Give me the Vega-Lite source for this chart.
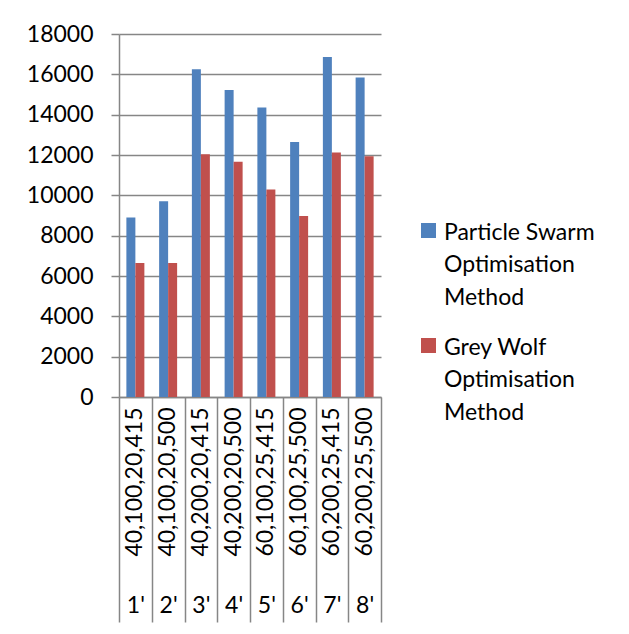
{
  "$schema": "https://vega.github.io/schema/vega-lite/v6.json",
  "width": 262,
  "height": 363,
  "padding": {"left": 26, "top": 23, "right": 5, "bottom": 5},
  "background": "white",
  "config": {"view": {"stroke": null}},
  "data": {
    "values": [
      {"cat": "1'", "combo": "40,100,20,415", "method": "Particle Swarm Optimisation Method", "value": 8900},
      {"cat": "1'", "combo": "40,100,20,415", "method": "Grey Wolf Optimisation Method", "value": 6650},
      {"cat": "2'", "combo": "40,100,20,500", "method": "Particle Swarm Optimisation Method", "value": 9710},
      {"cat": "2'", "combo": "40,100,20,500", "method": "Grey Wolf Optimisation Method", "value": 6640},
      {"cat": "3'", "combo": "40,200,20,415", "method": "Particle Swarm Optimisation Method", "value": 16250},
      {"cat": "3'", "combo": "40,200,20,415", "method": "Grey Wolf Optimisation Method", "value": 12040},
      {"cat": "4'", "combo": "40,200,20,500", "method": "Particle Swarm Optimisation Method", "value": 15220},
      {"cat": "4'", "combo": "40,200,20,500", "method": "Grey Wolf Optimisation Method", "value": 11660},
      {"cat": "5'", "combo": "60,100,25,415", "method": "Particle Swarm Optimisation Method", "value": 14350},
      {"cat": "5'", "combo": "60,100,25,415", "method": "Grey Wolf Optimisation Method", "value": 10290},
      {"cat": "6'", "combo": "60,100,25,500", "method": "Particle Swarm Optimisation Method", "value": 12640},
      {"cat": "6'", "combo": "60,100,25,500", "method": "Grey Wolf Optimisation Method", "value": 8980},
      {"cat": "7'", "combo": "60,200,25,415", "method": "Particle Swarm Optimisation Method", "value": 16860},
      {"cat": "7'", "combo": "60,200,25,415", "method": "Grey Wolf Optimisation Method", "value": 12120},
      {"cat": "8'", "combo": "60,200,25,500", "method": "Particle Swarm Optimisation Method", "value": 15840},
      {"cat": "8'", "combo": "60,200,25,500", "method": "Grey Wolf Optimisation Method", "value": 11940}
    ]
  },
  "layer": [
    {
      "mark": {"type": "bar"},
      "encoding": {
        "x": {
          "field": "combo", "type": "nominal", "sort": null,
          "scale": {"paddingInner": 0, "paddingOuter": 0},
          "axis": {"title": null, "orient": "bottom", "labelAngle": 270, "labelFont": "Lato", "labelFontSize": 23, "labelColor": "black", "labelPadding": 10, "ticks": false, "domain": false, "labelLimit": 400, "labelOverlap": false, "grid": false}
        },
        "xOffset": {
          "field": "method", "type": "nominal",
          "sort": ["Particle Swarm Optimisation Method", "Grey Wolf Optimisation Method"],
          "scale": {"paddingInner": 0, "paddingOuter": 0.82}
        },
        "y": {
          "field": "value", "type": "quantitative", "stack": null,
          "scale": {"domain": [0, 18000], "nice": false},
          "axis": {"title": null, "values": [0, 2000, 4000, 6000, 8000, 10000, 12000, 14000, 16000, 18000], "format": "d", "grid": true, "gridColor": "#868686", "gridWidth": 1.5, "domainColor": "#868686", "domainWidth": 1.5, "tickColor": "#868686", "tickWidth": 1.5, "tickSize": 8, "labelFont": "Lato", "labelFontSize": 23, "labelColor": "black", "labelPadding": 18}
        },
        "color": {
          "field": "method", "type": "nominal",
          "scale": {"domain": ["Particle Swarm Optimisation Method", "Grey Wolf Optimisation Method"], "range": ["#4F81BD", "#C0504D"]},
          "legend": {"title": null, "orient": "none", "legendX": 298, "legendY": 185, "symbolType": "square", "symbolSize": 225, "symbolStrokeWidth": 0, "labelFont": "Lato", "labelFontSize": 23, "labelColor": "black", "labelExpr": "[slice(datum.label, 0, indexof(datum.label, ' Optimisation')), 'Optimisation', 'Method']", "rowPadding": 24, "labelOffset": 4, "labelBaseline": "top", "labelLimit": 300, "encode": {"labels": {"update": {"lineHeight": {"value": 32.5}, "dy": {"value": -9}}}}}
        }
      }
    },
    {
      "mark": {"type": "bar", "opacity": 0},
      "encoding": {
        "x": {
          "field": "cat", "type": "nominal", "sort": null,
          "scale": {"paddingInner": 0, "paddingOuter": 0},
          "axis": {"title": null, "orient": "bottom", "tickBand": "extent", "tickSize": 225, "tickColor": "#868686", "tickWidth": 1.5, "domainColor": "#868686", "domainWidth": 1.5, "labelAngle": 0, "labelPadding": -28, "labelFont": "Lato", "labelFontSize": 23, "labelColor": "black", "grid": false}
        },
        "y": {"field": "value", "type": "quantitative", "stack": null}
      }
    }
  ],
  "resolve": {"scale": {"x": "independent"}, "axis": {"x": "independent"}}
}
